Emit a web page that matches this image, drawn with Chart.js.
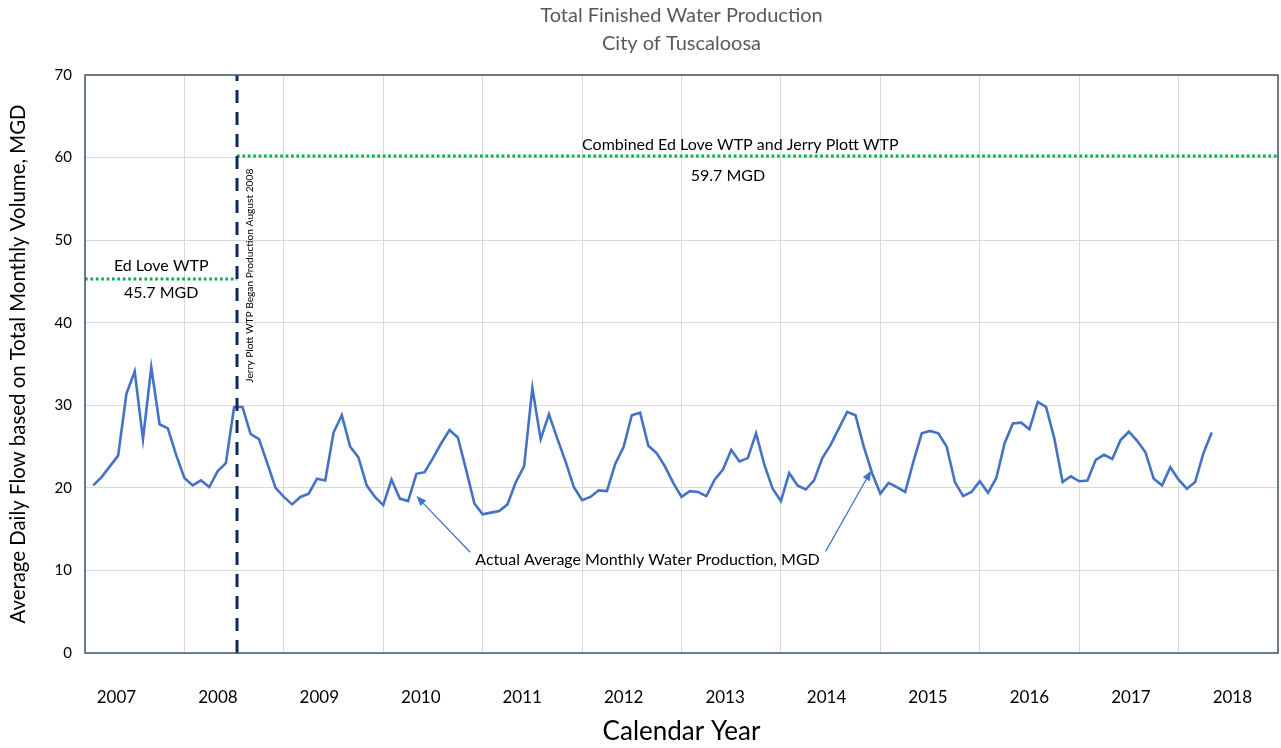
<!DOCTYPE html>
<html>
<head>
<meta charset="utf-8">
<title>Total Finished Water Production</title>
<script src="https://cdn.jsdelivr.net/npm/chart.js@4.4.1/dist/chart.umd.min.js"></script>
<style>
  html, body { margin: 0; padding: 0; background: #fff; }
  #wrap { width: 1281px; height: 748px; }
</style>
</head>
<body>
<div id="wrap"><canvas id="chart"></canvas></div>
<script>
// monthly average production, MGD (first point = first month of 2007)
const production = [
  20.3, 21.3, 22.6, 23.9, 31.4, 34.1, 25.9, 34.6, 27.7, 27.2, 24.0, 21.2,
  20.3, 20.9, 20.1, 22.0, 23.0, 29.8, 29.8, 26.5, 25.9, 23.0, 20.0, 18.9,
  18.0, 18.9, 19.3, 21.1, 20.9, 26.7, 28.8, 25.0, 23.7, 20.3, 18.9, 17.9,
  21.0, 18.7, 18.4, 21.7, 21.9, 23.6, 25.4, 27.0, 26.1, 22.2, 18.1, 16.8,
  17.0, 17.2, 18.0, 20.7, 22.6, 32.1, 25.9, 28.9, 26.0, 23.2, 20.1, 18.5,
  18.9, 19.7, 19.6, 22.9, 24.9, 28.8, 29.1, 25.1, 24.2, 22.6, 20.6, 18.9,
  19.6, 19.5, 19.0, 21.0, 22.2, 24.6, 23.2, 23.6, 26.6, 22.8, 19.9, 18.4,
  21.8, 20.3, 19.8, 20.9, 23.6, 25.2, 27.2, 29.2, 28.8, 25.0, 21.8, 19.3,
  20.6, 20.1, 19.5, 23.2, 26.6, 26.9, 26.6, 25.0, 20.7, 19.0, 19.5, 20.8,
  19.4, 21.2, 25.4, 27.8, 27.9, 27.1, 30.4, 29.8, 26.0, 20.7, 21.4, 20.8,
  20.9, 23.4, 24.0, 23.5, 25.8, 26.8, 25.7, 24.3, 21.1, 20.3, 22.5, 21.0,
  19.9, 20.7, 24.2, 26.7
];
const years = [2007, 2008, 2009, 2010, 2011, 2012, 2013, 2014, 2015, 2016, 2017, 2018];
const yTicks = [0, 10, 20, 30, 40, 50, 60, 70];

// plant capacity lines (value where drawn) and start of Jerry Plott (month index)
const edLoveCapacity = 45.3;
const combinedCapacity = 60.2;
const jerryPlottStart = 17.35;
const monthMin = -1, monthMax = 143;

const FONT = 'Lato, "Open Sans", sans-serif';
const BLUE = '#4472C4';
const GREEN = '#00B050';
const NAVY = '#10295A';

// text notes, placed in data units (month index, MGD)
const notes = [
  { text: 'Ed Love WTP', x: 8.2, y: 46.9 },
  { text: '45.7 MGD', x: 8.2, y: 43.6 },
  { text: 'Combined Ed Love WTP and Jerry Plott WTP', x: 78.1, y: 61.6 },
  { text: '59.7 MGD', x: 76.6, y: 57.8 },
  { text: 'Actual Average Monthly Water Production, MGD', x: 66.9, y: 11.3 }
];
const arrows = [
  { from: [45.5, 12.2], to: [39.0, 19.0] },
  { from: [88.4, 12.3], to: [93.9, 22.1] }
];

const annotate = {
  id: 'annotate',
  afterDatasetsDraw(chart) {
    const { ctx, scales: { x, y }, chartArea } = chart;
    ctx.save();
    ctx.fillStyle = '#000';
    ctx.font = '16px ' + FONT;
    ctx.textAlign = 'center';
    ctx.textBaseline = 'middle';
    notes.forEach(n => ctx.fillText(n.text, x.getPixelForValue(n.x), y.getPixelForValue(n.y)));

    // rotated note beside the start line
    ctx.save();
    ctx.translate(x.getPixelForValue(jerryPlottStart) + 13, y.getPixelForValue(45.7));
    ctx.rotate(-Math.PI / 2);
    ctx.font = '10.2px ' + FONT;
    ctx.fillText('Jerry Plott WTP Began Production August 2008', 0, 0);
    ctx.restore();

    ctx.strokeStyle = BLUE;
    ctx.fillStyle = BLUE;
    ctx.lineWidth = 1.3;
    arrows.forEach(a => {
      const x0 = x.getPixelForValue(a.from[0]), y0 = y.getPixelForValue(a.from[1]);
      const x1 = x.getPixelForValue(a.to[0]), y1 = y.getPixelForValue(a.to[1]);
      const ang = Math.atan2(y1 - y0, x1 - x0);
      const len = 10, half = 4;
      const bx = x1 - len * Math.cos(ang), by = y1 - len * Math.sin(ang);
      ctx.beginPath();
      ctx.moveTo(x0, y0);
      ctx.lineTo(bx, by);
      ctx.stroke();
      ctx.beginPath();
      ctx.moveTo(x1, y1);
      ctx.lineTo(bx + half * Math.sin(ang), by - half * Math.cos(ang));
      ctx.lineTo(bx - half * Math.sin(ang), by + half * Math.cos(ang));
      ctx.closePath();
      ctx.fill();
    });

    // plot frame
    ctx.strokeStyle = '#44546A';
    ctx.lineWidth = 1.5;
    ctx.strokeRect(chartArea.left, chartArea.top, chartArea.right - chartArea.left, chartArea.bottom - chartArea.top);
    ctx.restore();
  }
};

const ctx = document.getElementById('chart').getContext('2d');
new Chart(ctx, {
  type: 'line',
  data: {
    datasets: [
      {
        label: 'Jerry Plott start',
        data: [{ x: jerryPlottStart, y: 0 }, { x: jerryPlottStart, y: 70 }],
        borderColor: NAVY,
        borderWidth: 3,
        borderDash: [13, 9],
        pointRadius: 0,
        order: 0
      },
      {
        label: 'Actual Average Monthly Water Production, MGD',
        data: production.map((v, i) => ({ x: i, y: v })),
        borderColor: BLUE,
        borderWidth: 2.6,
        pointRadius: 0,
        tension: 0,
        order: 1
      },
      {
        label: 'Ed Love WTP',
        data: [{ x: monthMin, y: edLoveCapacity }, { x: jerryPlottStart, y: edLoveCapacity }],
        borderColor: GREEN,
        borderWidth: 3,
        borderDash: [2.7, 2.7],
        pointRadius: 0,
        order: 2
      },
      {
        label: 'Combined',
        data: [{ x: jerryPlottStart, y: combinedCapacity }, { x: monthMax, y: combinedCapacity }],
        borderColor: GREEN,
        borderWidth: 3,
        borderDash: [2.7, 2.7],
        pointRadius: 0,
        order: 2
      }
    ]
  },
  options: {
    responsive: true,
    maintainAspectRatio: false,
    animation: false,
    layout: { padding: { left: 0, right: 3, top: 0, bottom: 0 } },
    plugins: {
      legend: { display: false },
      tooltip: { enabled: false },
      title: {
        display: true,
        fullSize: false,
        text: ['Total Finished Water Production', 'City of Tuscaloosa'],
        color: '#595959',
        font: { family: FONT, size: 20, weight: 'normal', lineHeight: 1.4 },
        padding: { top: 2, bottom: 17 }
      }
    },
    scales: {
      x: {
        type: 'linear',
        min: monthMin,
        max: monthMax,
        afterBuildTicks: s => { s.ticks = years.map((_, k) => ({ value: monthMin + 12 * k })).concat([{ value: monthMax }]); },
        afterFit: s => { s.height = 0; },
        ticks: { display: false },
        grid: { color: '#D9D9D9', lineWidth: 1, drawTicks: false },
        border: { display: false }
      },
      yr: {
        type: 'linear',
        position: 'bottom',
        min: 2006.69,
        max: 2018.45,
        afterBuildTicks: s => { s.ticks = years.map(v => ({ value: v })); },
        afterFit: s => { s.height = 95; },
        ticks: {
          color: '#000',
          padding: 26,
          maxRotation: 0,
          autoSkip: false,
          font: { family: FONT, size: 17 },
          callback: v => String(v)
        },
        grid: { display: false },
        border: { display: false },
        title: {
          display: true,
          text: 'Calendar Year',
          color: '#000',
          font: { family: FONT, size: 26 },
          padding: { top: 0, bottom: 1 }
        }
      },
      y: {
        min: 0,
        max: 70,
        afterBuildTicks: s => { s.ticks = yTicks.map(v => ({ value: v })); },
        afterFit: s => { s.width = 85; },
        ticks: {
          color: '#000',
          padding: 13,
          font: { family: FONT, size: 15 }
        },
        grid: { color: '#D9D9D9', lineWidth: 1, drawTicks: false },
        border: { display: false },
        title: {
          display: true,
          text: 'Average Daily Flow based on Total Monthly Volume, MGD',
          color: '#000',
          font: { family: FONT, size: 20.4 },
          padding: { top: 6, bottom: 0 }
        }
      }
    }
  },
  plugins: [annotate]
});
</script>
</body>
</html>
